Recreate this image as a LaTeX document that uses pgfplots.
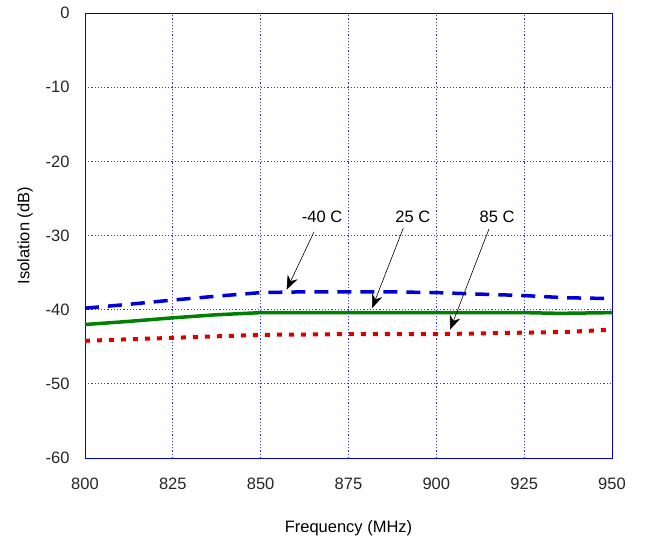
\documentclass[border=0pt]{standalone}
\usepackage{pgfplots}
\pgfplotsset{compat=1.18}
\usepackage{fontspec}
\setmainfont{Liberation Sans}
\usetikzlibrary{arrows.meta}

\pgfplotstableread{
x y
800 -39.8
812 -39.3
825 -38.7
837 -38.2
850 -37.7
862 -37.6
875 -37.6
887 -37.6
900 -37.7
912 -37.9
925 -38.1
937 -38.4
950 -38.5
}\coldtab
\pgfplotstableread{
x y
800 -42.0
812 -41.6
825 -41.1
837 -40.7
850 -40.4
875 -40.4
900 -40.4
925 -40.4
935 -40.5
950 -40.4
}\roomtab
\pgfplotstableread{
x y
800 -44.2
812 -44.0
825 -43.8
837 -43.6
850 -43.4
875 -43.3
900 -43.3
925 -43.1
937 -43.0
950 -42.7
}\hottab

\begin{document}
\begin{tikzpicture}
\begin{axis}[
    name=ax,
    scale only axis,
    width=527pt, height=445pt,
    xmin=800, xmax=950, ymin=-60, ymax=0,
    xtick={800,825,...,950},
    ytick={-60,-50,...,0},
    axis line style={blue!85!black, line width=0.9pt},
    major tick length=0pt,
    grid=major,
    major grid style={blue!80, dash pattern=on 1.2pt off 2pt, line width=0.8pt},
    tick label style={font=\fontsize{16.5}{18}\selectfont, text=black!85},
    label style={font=\fontsize{16.5}{18}\selectfont},
    /pgf/number format/assume math mode=true,
    /pgf/number format/.cd, set thousands separator={},
    /pgfplots/.cd,
    xlabel={Frequency (MHz)},
    ylabel={Isolation (dB)},
    xticklabel style={yshift=-16pt},
    yticklabel style={xshift=-12pt},
    xlabel style={yshift=-24pt},
    ylabel style={yshift=6pt},
]
\addplot[blue!85!black, line width=3.5pt, dash pattern=on 14pt off 9pt] table {\coldtab};
\addplot[green!50!black, line width=3.5pt] table {\roomtab};
\addplot[red!85!black, line width=4pt, dash pattern=on 5pt off 7pt] table {\hottab};

\node[font=\fontsize{16.5}{18}\selectfont] at (axis cs:867.5,-27.5) {-40 C};
\node[font=\fontsize{16.5}{18}\selectfont] at (axis cs:893.3,-27.5) {25 C};
\node[font=\fontsize{16.5}{18}\selectfont] at (axis cs:917.3,-27.5) {85 C};
\draw[-{Stealth[length=14pt,width=11pt]}, line width=0.6pt] (axis cs:865.2,-29.5) -- (axis cs:857.4,-37.3);
\draw[-{Stealth[length=14pt,width=11pt]}, line width=0.6pt] (axis cs:890.6,-29.0) -- (axis cs:881.7,-39.8);
\draw[-{Stealth[length=14pt,width=11pt]}, line width=0.6pt] (axis cs:915.0,-29.1) -- (axis cs:903.9,-42.7);
\end{axis}
\pgfresetboundingbox
\path (ax.south west) ++(-85pt,-82pt) rectangle ++(646pt,540pt);
\end{tikzpicture}
\end{document}
